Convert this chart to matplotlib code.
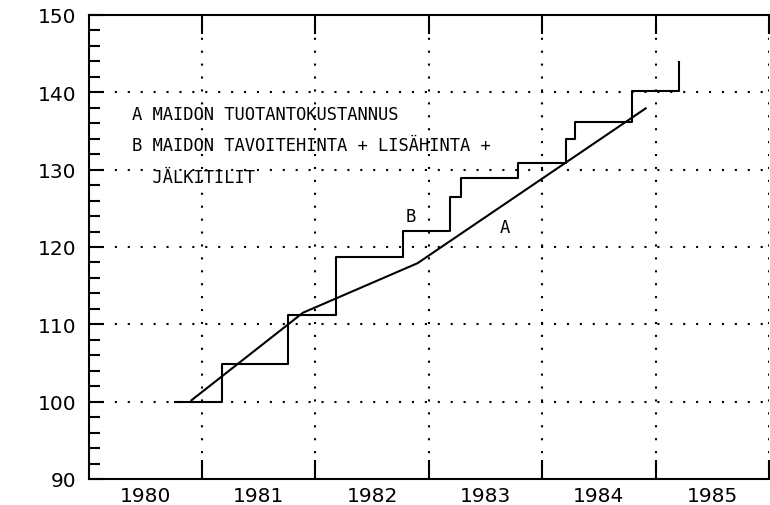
"""
Maidon tuotantokustannus vs. tavoitehinta + lisahinta + jalkitilit, 1980-1985.
"""
import numpy as np
import matplotlib
matplotlib.use("Agg")
import matplotlib.pyplot as plt
from matplotlib.ticker import MultipleLocator, FixedLocator, NullFormatter

# A: tuotantokustannus (murtoviiva)
A_X = [1980.90, 1981.89, 1982.90, 1984.92]
A_Y = [100.1, 111.5, 117.9, 138.0]
# B: tavoitehinta + lisahinta + jalkitilit (porrasviiva, muutoskohdat)
B_X = [1980.76, 1981.18, 1981.76, 1982.18, 1982.77, 1983.19, 1983.28,
       1983.79, 1984.21, 1984.29, 1984.79, 1985.21]
B_Y = [100.0, 104.9, 111.2, 118.7, 122.1, 126.5, 128.9,
       130.9, 134.0, 136.1, 140.2, 143.9]
YEARS = [1980, 1981, 1982, 1983, 1984, 1985]
LEGEND = ["A MAIDON TUOTANTOKUSTANNUS",
          "B MAIDON TAVOITEHINTA + LISÄHINTA +",
          "  JÄLKITILIT"]

fig = plt.figure(figsize=(7.7, 5.06), dpi=100)
ax = fig.add_axes([88.6 / 770, 26 / 506, (769 - 88.6) / 770, 464 / 506])
ax.set_xlim(1980, 1986)
ax.set_ylim(90, 150)

dot = dict(color="black", lw=1.5, ls=(0, (1, 5.2)))
for y in [100, 110, 120, 130, 140]:
    ax.axhline(y, **dot)
for x in [1981, 1982, 1983, 1984, 1985, 1986]:
    ax.axvline(x, **dot)

ax.plot(A_X, A_Y, color="black", lw=1.5, solid_capstyle="butt")
ax.step(B_X, B_Y, where="post", color="black", lw=1.5)

mono = dict(family="DejaVu Sans Mono", fontsize=12.3, va="center", ha="left")
ax.text(1980.38, 137.2, LEGEND[0], **mono)
ax.text(1980.38, 133.2, LEGEND[1], **mono)
ax.text(1980.38, 129.1, LEGEND[2], **mono)
ax.text(1982.84, 124.0, "B", family="DejaVu Sans Mono", fontsize=12.3, ha="center", va="center")
ax.text(1983.67, 122.6, "A", family="DejaVu Sans Mono", fontsize=12.3, ha="center", va="center")

for s in ["left", "bottom", "top"]:
    ax.spines[s].set_linewidth(1.5)
ax.spines["right"].set_visible(False)

ax.yaxis.set_major_locator(MultipleLocator(10))
ax.yaxis.set_minor_locator(MultipleLocator(2))
ax.tick_params(axis="y", which="major", direction="in", length=11, width=1.5,
               pad=9, labelsize=14.5, right=False)
ax.tick_params(axis="y", which="minor", direction="in", length=8, width=1.5, right=False)

ax.xaxis.set_major_locator(FixedLocator(YEARS[1:] + [1986]))
ax.xaxis.set_major_formatter(NullFormatter())
ax.xaxis.set_minor_locator(FixedLocator([y + 0.5 for y in YEARS]))
ax.set_xticklabels([str(y) for y in YEARS], minor=True)
ax.tick_params(axis="x", which="major", direction="in", length=14, width=1.5,
               top=True, bottom=True)
ax.tick_params(axis="x", which="minor", length=0, pad=5, labelsize=14.5)

fig.savefig("out.png", dpi=100)
